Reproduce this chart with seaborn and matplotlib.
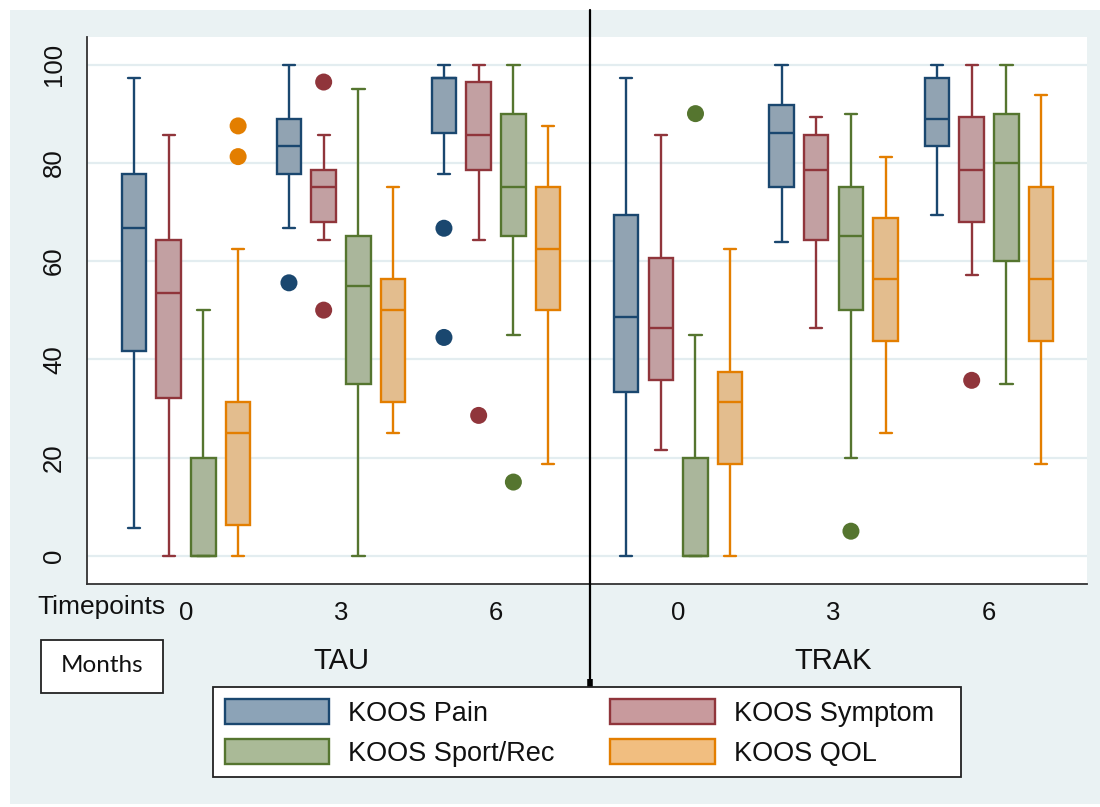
import numpy as np
import pandas as pd
import matplotlib
matplotlib.use("Agg")
import matplotlib.pyplot as plt
from matplotlib.patches import Patch, Rectangle
from matplotlib.lines import Line2D
from matplotlib.transforms import blended_transform_factory
import seaborn as sns

# ---------------- data ----------------
MEASURES = ["KOOS Pain", "KOOS Symptom", "KOOS Sport/Rec", "KOOS QOL"]
ARMS = ["TAU", "TRAK"]
TIMEPOINTS = ["0", "3", "6", "0", "3", "6"]   # TAU 0/3/6, TRAK 0/3/6

# five-number summaries per timepoint: whisker low, Q1, median, Q3, whisker high
PAIN = [
    [5.56, 41.67, 66.67, 77.78, 97.22],
    [66.67, 77.78, 83.33, 88.89, 100.0],
    [77.78, 86.11, 97.22, 97.22, 100.0],
    [0.0, 33.33, 48.61, 69.44, 97.22],
    [63.89, 75.0, 86.11, 91.67, 100.0],
    [69.44, 83.33, 88.89, 97.22, 100.0],
]
SYMPTOM = [
    [0.0, 32.14, 53.57, 64.29, 85.71],
    [64.29, 67.86, 75.0, 78.57, 85.71],
    [64.29, 78.57, 85.71, 96.43, 100.0],
    [21.43, 35.71, 46.43, 60.71, 85.71],
    [46.43, 64.29, 78.57, 85.71, 89.29],
    [57.14, 67.86, 78.57, 89.29, 100.0],
]
SPORT = [
    [0.0, 0.0, 0.0, 20.0, 50.0],
    [0.0, 35.0, 55.0, 65.0, 95.0],
    [45.0, 65.0, 75.0, 90.0, 100.0],
    [0.0, 0.0, 0.0, 20.0, 45.0],
    [20.0, 50.0, 65.0, 75.0, 90.0],
    [35.0, 60.0, 80.0, 90.0, 100.0],
]
QOL = [
    [0.0, 6.25, 25.0, 31.25, 62.5],
    [25.0, 31.25, 50.0, 56.25, 75.0],
    [18.75, 50.0, 62.5, 75.0, 87.5],
    [0.0, 18.75, 31.25, 37.5, 62.5],
    [25.0, 43.75, 56.25, 68.75, 81.25],
    [18.75, 43.75, 56.25, 75.0, 93.75],
]

# outside values
OUT_GROUP = [0, 0, 1, 1, 1, 2, 2, 2, 2, 3, 4, 5]
OUT_MEASURE = ["KOOS QOL", "KOOS QOL", "KOOS Pain", "KOOS Symptom", "KOOS Symptom",
               "KOOS Pain", "KOOS Pain", "KOOS Symptom", "KOOS Sport/Rec",
               "KOOS Sport/Rec", "KOOS Sport/Rec", "KOOS Symptom"]
OUT_VALUE = [87.5, 81.25, 55.56, 96.43, 50.0, 66.67, 44.44, 28.57, 15.0, 90.0, 5.0, 35.71]

# ---------------- styling / layout ----------------
EDGE = {"KOOS Pain": "#1a476f", "KOOS Symptom": "#90353b",
        "KOOS Sport/Rec": "#55752f", "KOOS QOL": "#e37e00"}
FILL = {"KOOS Pain": "#8ca3b7", "KOOS Symptom": "#c89a9d",
        "KOOS Sport/Rec": "#aaba97", "KOOS QOL": "#f1be80"}
BG = "#eaf2f3"
GRID = "#e3edf0"
GROUP_X = np.array([0.0, 1.0, 2.0, 3.175, 4.178, 5.181])
BOX_WIDTH = 0.896
BOX_GAP = 0.294

W, H = 1100, 807

def fx(px):
    return px / W

def fy(py):
    return 1 - py / H

sns.set_theme(style="white")
plt.rcParams["font.family"] = ["Liberation Sans", "DejaVu Sans"]
plt.rcParams["text.color"] = "#111111"
plt.rcParams["xtick.color"] = "#111111"
plt.rcParams["ytick.color"] = "#111111"

rows = []
for m, summ in zip(MEASURES, [PAIN, SYMPTOM, SPORT, QOL]):
    for g, vals in enumerate(summ):
        for v in vals:
            rows.append({"x": GROUP_X[g], "measure": m, "value": v})
df = pd.DataFrame(rows)

n_h = len(MEASURES)
out_df = pd.DataFrame({
    "x": [GROUP_X[g] + (MEASURES.index(m) - (n_h - 1) / 2) * BOX_WIDTH / n_h
          for g, m in zip(OUT_GROUP, OUT_MEASURE)],
    "measure": OUT_MEASURE,
    "value": OUT_VALUE,
})

fig = plt.figure(figsize=(W / 100, H / 100), dpi=100, facecolor="white")
fig.add_artist(Rectangle((fx(10), fy(804)), fx(1100) - fx(10), fy(10) - fy(804),
                         transform=fig.transFigure, facecolor=BG, edgecolor="none", zorder=-10))

ax = fig.add_axes([fx(87), fy(584), fx(1087) - fx(87), fy(37) - fy(584)])
ax.set_facecolor("white")

for m in MEASURES:
    sns.boxplot(data=df[df["measure"] == m], x="x", y="value", hue="measure",
                hue_order=MEASURES, palette=FILL, native_scale=True, dodge=True,
                width=BOX_WIDTH, gap=BOX_GAP, whis=(0, 100), showfliers=False,
                linewidth=1.7, linecolor=EDGE[m], legend=False, ax=ax)

sns.scatterplot(data=out_df, x="x", y="value", hue="measure", hue_order=MEASURES,
                palette=EDGE, s=150, linewidth=0, legend=False, ax=ax, zorder=4)

ax.set_xlim(-0.639, 5.813)
ax.set_ylim(-5.75, 105.6)
ax.set_yticks([0, 20, 40, 60, 80, 100])
ax.set_xticks(GROUP_X, TIMEPOINTS)
ax.set_xlabel("")
ax.set_ylabel("")
ax.yaxis.grid(True, color=GRID, linewidth=1.6)
ax.xaxis.grid(False)
ax.set_axisbelow(True)
for s in ["top", "right"]:
    ax.spines[s].set_visible(False)
for s in ["left", "bottom"]:
    ax.spines[s].set_color("#333333")
    ax.spines[s].set_linewidth(1.3)
ax.tick_params(axis="y", length=8, width=1.2, color="#333333", labelsize=18.5,
               pad=7, labelrotation=90)
for lbl in ax.get_yticklabels():
    lbl.set_va("center")
ax.tick_params(axis="x", length=0, labelsize=18.5, pad=12)

# annotations
fig.text(fx(101), fy(607), "Timepoints", ha="center", va="center", fontsize=19)
tr = blended_transform_factory(ax.transData, fig.transFigure)
ax.text(GROUP_X[1], fy(661), ARMS[0], transform=tr, ha="center", va="center",
        fontsize=21, clip_on=False)
ax.text(GROUP_X[4], fy(661), ARMS[1], transform=tr, ha="center", va="center",
        fontsize=21, clip_on=False)

fig.add_artist(Rectangle((fx(41), fy(693)), fx(163) - fx(41), fy(640) - fy(693),
                         transform=fig.transFigure, facecolor="white",
                         edgecolor="#222222", linewidth=1.3))
fig.text(fx(102), fy(666), "Months", ha="center", va="center", fontsize=17.5,
         family=["Lato", "DejaVu Sans"])

# divider line between arms
fig.add_artist(Line2D([fx(590), fx(590)], [fy(10), fy(684)], transform=fig.transFigure,
                      color="black", linewidth=1.6, zorder=6))
fig.add_artist(Line2D([fx(590), fx(590)], [fy(679), fy(687)], transform=fig.transFigure,
                      color="black", linewidth=4, zorder=6, solid_capstyle="butt"))

# legend frame (drawn separately to match the reference box size)
fig.add_artist(Rectangle((fx(213), fy(777)), fx(961) - fx(213), fy(687) - fy(777),
                         transform=fig.transFigure, facecolor="white",
                         edgecolor="#222222", linewidth=1.3, zorder=7))

# legend (column-major: Pain, Sport/Rec | Symptom, QOL)
leg_order = ["KOOS Pain", "KOOS Sport/Rec", "KOOS Symptom", "KOOS QOL"]
handles = [Patch(facecolor=FILL[m], edgecolor=EDGE[m], linewidth=1.7) for m in leg_order]
leg = fig.legend(handles, leg_order, loc="upper left", bbox_to_anchor=(fx(213), fy(687)),
                 ncol=2, fontsize=19.5, frameon=False,
                 handlelength=3.85, handleheight=1.05, handletextpad=0.7,
                 columnspacing=2.05, labelspacing=0.45, borderpad=0.45, borderaxespad=0)
leg.set_zorder(8)

fig.savefig("out.png", dpi=100, facecolor="white")
